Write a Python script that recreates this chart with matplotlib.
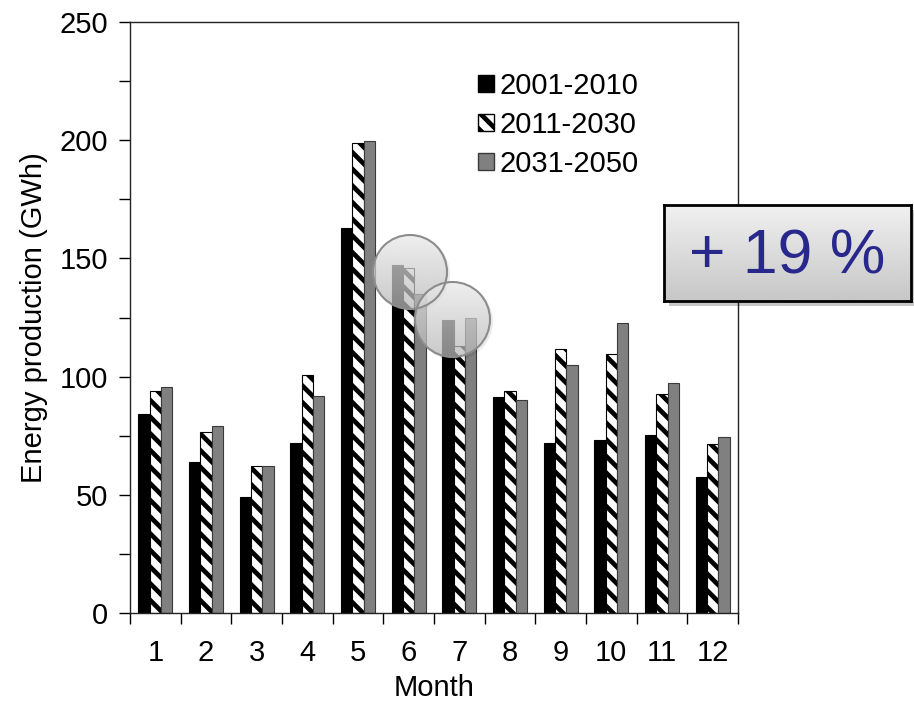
import numpy as np
import matplotlib
matplotlib.use("Agg")
import matplotlib.pyplot as plt
from matplotlib.patches import Patch, Circle, Rectangle
from matplotlib.transforms import ScaledTranslation

# Monthly energy production (GWh) for three periods
months = ["1", "2", "3", "4", "5", "6", "7", "8", "9", "10", "11", "12"]
p2001_2010 = [84, 64, 49, 72, 163, 147, 124, 91.5, 72, 73, 75.5, 57.5]
p2011_2030 = [94, 76.5, 62, 100.5, 199, 146, 113, 94, 111.5, 109.5, 92.5, 71.5]
p2031_2050 = [95.5, 79, 62, 92, 199.5, 135, 125, 90, 105, 122.5, 97.5, 74.5]
series_labels = ["2001-2010", "2011-2030", "2031-2050"]
increase_text = "+ 19 %"

plt.rcParams["font.family"] = ["Liberation Sans", "DejaVu Sans"]
plt.rcParams["hatch.linewidth"] = 3.4
plt.rcParams["hatch.color"] = "black"

FS = 21
W, H = 914, 701
fig = plt.figure(figsize=(W / 100, H / 100), dpi=100)
ax = fig.add_axes([130 / W, 1 - 613 / H, 608 / W, 591 / H])

x = np.arange(len(months))
bw = 0.225
ax.bar(x - bw, p2001_2010, bw, color="black", edgecolor="black", linewidth=0.8, zorder=2)
ax.bar(x, p2011_2030, bw, color="white", edgecolor="black", linewidth=0.8,
       hatch="\\\\", zorder=2)
ax.bar(x + bw, p2031_2050, bw, color="#808080", edgecolor="#3a3a3a", linewidth=0.8, zorder=2)

ax.set_xlim(-0.5, len(months) - 0.5)
ax.set_ylim(0, 250)

ax.set_yticks(np.arange(0, 251, 50))
ax.set_yticks(np.arange(0, 251, 25), minor=True)
ax.tick_params(axis="y", which="both", direction="out", length=8, width=1,
               labelsize=FS, pad=8)

ax.set_xticks(x, months)
ax.set_xticks(np.arange(-0.5, len(months), 1), minor=True)
ax.tick_params(axis="x", which="major", length=0, labelsize=FS, pad=19)
ax.tick_params(axis="x", which="minor", direction="out", length=8, width=1)

for s in ax.spines.values():
    s.set_linewidth(1.0)
    s.set_color("#222222")

ax.set_xlabel("Month", fontsize=FS, labelpad=5)
ax.set_ylabel("Energy production (GWh)", fontsize=FS, labelpad=8)

handles = [
    Patch(facecolor="black", edgecolor="black"),
    Patch(facecolor="white", edgecolor="black", hatch="\\\\"),
    Patch(facecolor="#808080", edgecolor="#3a3a3a"),
]
leg = ax.legend(handles, series_labels, loc="upper left",
                bbox_to_anchor=((466 - 130) / 608, (613 - 60) / 591),
                frameon=False, fontsize=FS, handlelength=0.55, handleheight=0.55,
                handletextpad=0.2, labelspacing=0.38, borderaxespad=0)

# Translucent glass circles over months 6 and 7
fig.canvas.draw()
inv = ax.transData.inverted()


def glass(cx_px, cy_px, r_px):
    # pixel coords measured from top-left of the figure
    disp = (cx_px, H - cy_px)
    cx, cy = inv.transform(disp)
    tr = fig.dpi_scale_trans + ScaledTranslation(cx, cy, ax.transData)
    r = r_px / 100
    shadow = Circle((0.02, -0.02), r + 0.01, transform=tr, facecolor="black",
                    alpha=0.08, edgecolor="none", zorder=4)
    ax.add_patch(shadow)
    x0, y0 = inv.transform((disp[0] - r_px, disp[1] - r_px))
    x1, y1 = inv.transform((disp[0] + r_px, disp[1] + r_px))
    grad = np.linspace(0.94, 0.74, 64)[:, None] * np.ones((64, 2))
    img = ax.imshow(grad, cmap="gray", vmin=0, vmax=1, extent=(x0, x1, y0, y1),
                    aspect="auto", alpha=0.72, zorder=5, interpolation="bilinear")
    clip = Circle((0, 0), r, transform=tr, facecolor="none", edgecolor="none")
    ax.add_patch(clip)
    img.set_clip_path(clip)
    ring = Circle((0, 0), r, transform=tr, facecolor="none", edgecolor="#8c8c8c",
                  linewidth=1.5, zorder=6)
    ax.add_patch(ring)


glass(410, 272, 37)
glass(452.5, 319.5, 37.5)
ax.set_xlim(-0.5, len(months) - 0.5)
ax.set_ylim(0, 250)

# Highlight box with the overall increase
bx0, by0, bx1, by1 = 664, 205, 911, 301
sh = fig.add_axes([(bx0 + 5) / W, 1 - (by1 + 5) / H, (bx1 - bx0) / W, (by1 - by0) / H])
sh.set_axis_off()
sh.add_patch(Rectangle((0, 0), 1, 1, transform=sh.transAxes, facecolor="black",
                       alpha=0.22, edgecolor="none"))
box = fig.add_axes([bx0 / W, 1 - by1 / H, (bx1 - bx0) / W, (by1 - by0) / H])
g = np.linspace(0.94, 0.78, 64)[:, None] * np.ones((64, 2))
box.imshow(g, cmap="gray", vmin=0, vmax=1, aspect="auto", extent=(0, 1, 0, 1),
           interpolation="bilinear")
box.set_xticks([])
box.set_yticks([])
for s in box.spines.values():
    s.set_linewidth(2)
    s.set_color("black")
box.text(0.5, 0.46, increase_text, transform=box.transAxes, ha="center",
         va="center", fontsize=45, color="#28288C")

fig.savefig("out.png", dpi=100)
